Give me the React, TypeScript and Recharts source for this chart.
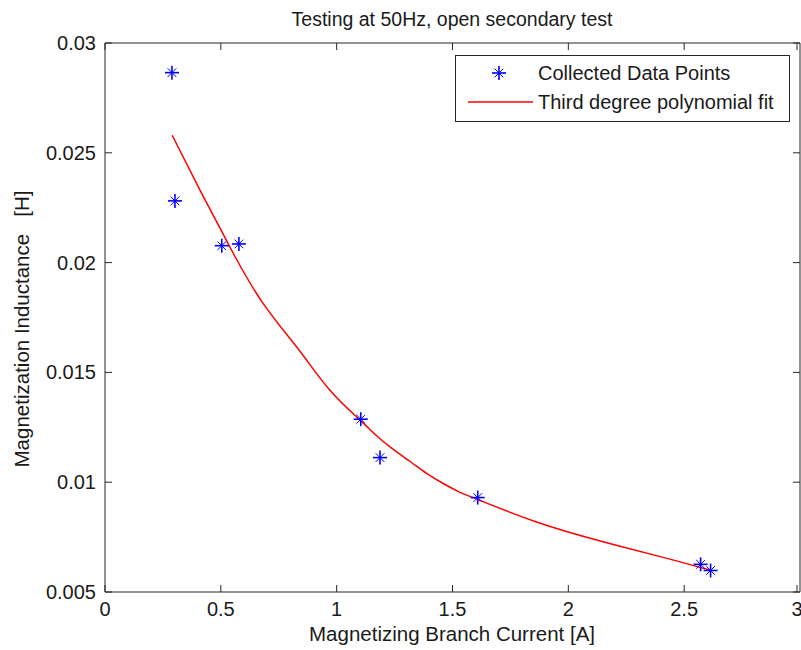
import React from 'react';
import { ComposedChart, Scatter, Line, XAxis, YAxis, Legend } from 'recharts';

// measured data
const currentA = [0.289, 0.302, 0.504, 0.578, 1.104, 1.187, 1.609, 2.571, 2.614];
const inductanceH = [0.02865, 0.02281, 0.02077, 0.02085, 0.01287, 0.01112, 0.0093, 0.00626, 0.00598];

// polynomial fit
const fitCurrent = [0.29, 0.41, 0.5, 0.56, 0.68, 0.83, 0.97, 1.1, 1.17, 1.24, 1.32, 1.39, 1.46, 1.53, 1.6, 1.86, 2.15, 2.43, 2.61];
const fitInductance = [0.0258, 0.0233, 0.0215, 0.0203, 0.01818, 0.01612, 0.0142, 0.01284, 0.01214, 0.01153, 0.01092, 0.01039, 0.00994, 0.00955, 0.00925, 0.0082, 0.00729, 0.00652, 0.006];

const xTicks = [0, 0.5, 1, 1.5, 2, 2.5, 3];
const yTicks = [0.005, 0.01, 0.015, 0.02, 0.025, 0.03];

const points = currentA.map((x, i) => ({ x, y: inductanceH[i] }));
const fit = fitCurrent.map((x, i) => ({ x, y: fitInductance[i] }));

const FONT = '"Liberation Sans", Arial, sans-serif';
const AXIS = '#262626';
const LEFT = 105;
const TOP = 43;
const RIGHT = 800;
const BOTTOM = 592;
const TICK = 7;

const Star = ({ cx, cy, s = 7, color = '#0000ff' }: any) => {
  const d = s * 0.62;
  return (
    <g stroke={color} strokeWidth={1.6}>
      <line x1={cx - s} y1={cy} x2={cx + s} y2={cy} />
      <line x1={cx} y1={cy - s} x2={cx} y2={cy + s} />
      <line x1={cx - d} y1={cy - d} x2={cx + d} y2={cy + d} strokeWidth={1} />
      <line x1={cx - d} y1={cy + d} x2={cx + d} y2={cy - d} strokeWidth={1} />
    </g>
  );
};

const BottomTick = ({ x, payload }: any) => (
  <g>
    <line x1={x} y1={BOTTOM} x2={x} y2={BOTTOM - TICK} stroke={AXIS} />
    <text x={x} y={BOTTOM + 24} textAnchor="middle" fontFamily={FONT} fontSize={20} fill="#1a1a1a">
      {payload.value}
    </text>
  </g>
);

const TopTick = ({ x }: any) => <line x1={x} y1={TOP} x2={x} y2={TOP + TICK} stroke={AXIS} />;

const LeftTick = ({ y, payload }: any) => (
  <g>
    <line x1={LEFT} y1={y} x2={LEFT + TICK} y2={y} stroke={AXIS} />
    <text x={LEFT - 9} y={y + 7} textAnchor="end" fontFamily={FONT} fontSize={20} fill="#1a1a1a">
      {payload.value}
    </text>
  </g>
);

const RightTick = ({ y }: any) => <line x1={RIGHT} y1={y} x2={RIGHT - TICK} y2={y} stroke={AXIS} />;

const LegendBox = () => (
  <div
    style={{
      width: 333,
      height: 65,
      border: `1px solid ${AXIS}`,
      background: '#fff',
      fontFamily: FONT,
      fontSize: 20,
      color: '#1a1a1a',
      position: 'relative',
    }}
  >
    <svg width={80} height={65} style={{ position: 'absolute', left: 0, top: 0 }}>
      <Star cx={43} cy={17} />
      <line x1={12} y1={46} x2={77} y2={46} stroke="#ff0000" strokeWidth={1.5} />
    </svg>
    <div style={{ position: 'absolute', left: 82, top: 4, lineHeight: '26px', whiteSpace: 'nowrap' }}>Collected Data Points</div>
    <div style={{ position: 'absolute', left: 82, top: 33, lineHeight: '26px', whiteSpace: 'nowrap' }}>Third degree polynomial fit</div>
  </div>
);

const App = () => {
  return (
    <div style={{ position: 'absolute', left: 0, top: 0, width: 801, height: 650, background: '#fff' }}>
      <ComposedChart width={801} height={650} margin={{ top: TOP - 1, right: 0, bottom: 0, left: 0 }}>
        <XAxis
          type="number"
          dataKey="x"
          domain={[0, 3]}
          ticks={xTicks}
          height={650 - BOTTOM}
          tickSize={0}
          tickMargin={0}
          tick={<BottomTick />}
          tickLine={false}
          axisLine={{ stroke: AXIS }}
          allowDataOverflow
        />
        <XAxis
          xAxisId="top"
          orientation="top"
          type="number"
          dataKey="x"
          domain={[0, 3]}
          ticks={xTicks}
          height={1}
          tickSize={0}
          tickMargin={0}
          tick={<TopTick />}
          tickLine={false}
          axisLine={{ stroke: AXIS }}
          allowDataOverflow
        />
        <YAxis
          type="number"
          dataKey="y"
          domain={[0.005, 0.03]}
          ticks={yTicks}
          width={LEFT}
          tickSize={0}
          tickMargin={0}
          tick={<LeftTick />}
          tickLine={false}
          axisLine={{ stroke: AXIS }}
          allowDataOverflow
        />
        <YAxis
          yAxisId="right"
          orientation="right"
          type="number"
          dataKey="y"
          domain={[0.005, 0.03]}
          ticks={yTicks}
          width={1}
          tickSize={0}
          tickMargin={0}
          tick={<RightTick />}
          tickLine={false}
          axisLine={{ stroke: AXIS }}
          allowDataOverflow
        />
        {/* hidden copy of the fit so the box axes get a domain */}
        <Line
          data={fit}
          dataKey="y"
          xAxisId="top"
          yAxisId="right"
          stroke="none"
          dot={false}
          activeDot={false}
          legendType="none"
          isAnimationActive={false}
        />
        <Line
          data={fit}
          dataKey="y"
          type="natural"
          stroke="#ff0000"
          strokeWidth={1.5}
          dot={false}
          activeDot={false}
          name="Third degree polynomial fit"
          isAnimationActive={false}
        />
        <Scatter
          data={points}
          dataKey="y"
          name="Collected Data Points"
          shape={(p: any) => <Star cx={p.cx} cy={p.cy} />}
          isAnimationActive={false}
        />
        <Legend
          verticalAlign="middle"
          content={() => <LegendBox />}
          wrapperStyle={{ left: 455, top: 55, width: 335, height: 67 }}
        />
        <text x={452} y={26} textAnchor="middle" fontFamily={FONT} fontSize={19.5} fill="#1a1a1a">
          Testing at 50Hz, open secondary test
        </text>
        <text x={452} y={641} textAnchor="middle" fontFamily={FONT} fontSize={20.5} fill="#1a1a1a">
          Magnetizing Branch Current [A]
        </text>
        <text
          x={29}
          y={329}
          textAnchor="middle"
          fontFamily={FONT}
          fontSize={20.5}
          fill="#1a1a1a"
          style={{ whiteSpace: 'pre' }}
          transform="rotate(-90 29 329)"
        >
          Magnetization Inductance   [H]
        </text>
      </ComposedChart>
    </div>
  );
};

export default App;
